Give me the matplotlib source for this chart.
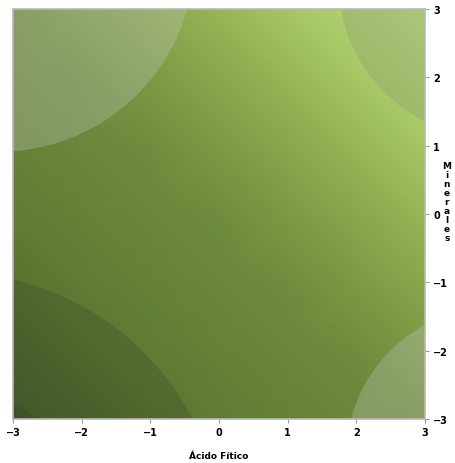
import numpy as np
import matplotlib
matplotlib.use("Agg")
import matplotlib.pyplot as plt
import matplotlib.patches as patches
from matplotlib.colors import LinearSegmentedColormap

# grid nodes along both axes
acid_vals = [-3, -2, -1, 0, 1, 2, 3]
mineral_vals = [-3, -2, -1, 0, 1, 2, 3]

# shade level at each node, rows go from bottom (-3) to top (3)
shade = [
    [-6, -5, -4, -3, -2, -1, 0],
    [-5, -4, -3, -2, -1, 0, 1],
    [-4, -3, -2, -1, 0, 1, 2],
    [-3, -2, -1, 0, 1, 2, 3],
    [-2, -1, 0, 1, 2, 3, 4],
    [-1, 0, 1, 2, 3, 4, 5],
    [0, 1, 2, 3, 4, 5, 6],
]

# corner zones (centre, radius)
zone_x = [-3.21, -3.92, -3.92, 4.06, 4.03]
zone_y = [3.76, -4.83, -4.83, -3.56, 3.40]
zone_r = [2.85, 3.98, 2.24, 2.21, 2.29]
zone_color = ["#c8c8c8", "#333a28", "#333a28", "#c8c8c8", "#8a9470"]
zone_alpha = [0.30, 0.22, 0.22, 0.30, 0.30]

tick_vals = [-3, -2, -1, 0, 1, 2, 3]
x_title = "Ácido Fítico"
y_title = "Minerales"

green = LinearSegmentedColormap.from_list(
    "greens",
    [(0.0, "#46602a"), (1 / 6, "#58732f"), (0.25, "#607c35"), (0.5, "#6f8d3d"),
     (0.708, "#8fae50"), (0.833, "#a6c764"), (1.0, "#bcdc80")])

fig = plt.figure(figsize=(4.56, 4.64), dpi=100)
ax = fig.add_axes([13 / 456, 1 - 420 / 464, 412 / 456, 410 / 464])

X, Y = np.meshgrid(acid_vals, mineral_vals)
ax.pcolormesh(X, Y, np.array(shade, dtype=float), shading="gouraud",
              cmap=green, vmin=-6, vmax=6, zorder=1)

for cx, cy, r, c, a in zip(zone_x, zone_y, zone_r, zone_color, zone_alpha):
    ax.add_patch(patches.Circle((cx, cy), r, facecolor=c, edgecolor="none",
                                alpha=a, zorder=2))

ax.set_xlim(-3, 3)
ax.set_ylim(-3, 3)
ax.set_xticks(tick_vals)
ax.set_yticks(tick_vals)
ax.yaxis.tick_right()
ax.tick_params(axis="both", length=3, width=0.8, color="#999999",
               labelsize=7, pad=3)
for lab in ax.get_xticklabels() + ax.get_yticklabels():
    lab.set_fontweight("bold")

for side in ["left", "right", "top", "bottom"]:
    ax.spines[side].set_color("#b8b8b8")
    ax.spines[side].set_linewidth(1.2)

ax.set_xlabel(x_title, fontsize=6.5, fontweight="bold", labelpad=10)
ax.yaxis.set_label_position("right")
ax.set_ylabel("\n".join(y_title), rotation=0, fontsize=6.5, fontweight="bold",
              linespacing=1.0, va="center", ha="center")
ax.yaxis.set_label_coords(1.053, 0.53)

fig.savefig("out.png", dpi=100)
